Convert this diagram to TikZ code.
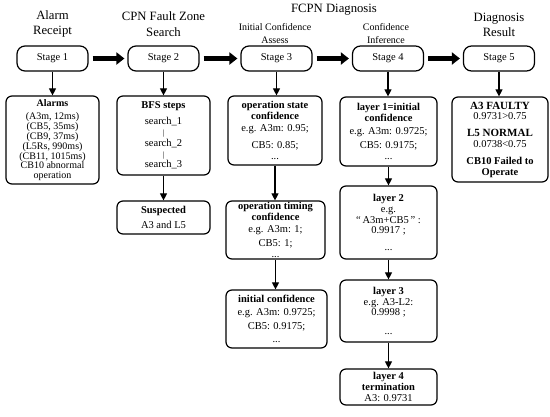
\documentclass[tikz,border=0pt]{standalone}
\usepackage{fontspec}
\setmainfont{Liberation Serif}
\usetikzlibrary{arrows.meta}
\begin{document}
\begin{tikzpicture}[x=1pt,y=-1pt,
  hdr/.style={align=center, font=\fontsize{12.7}{15.5}\selectfont, inner sep=0pt},
  subhdr/.style={align=center, font=\fontsize{10}{13}\selectfont, inner sep=0pt},
  stagebox/.style={draw, line width=1.2pt, rounded corners=8pt, minimum width=71pt, minimum height=25pt, inner sep=0pt, font=\fontsize{10.5}{12}\selectfont},
  infobox/.style={draw, line width=1.2pt, rounded corners=6pt, inner sep=0pt, align=center, font=\fontsize{10.5}{10.8}\selectfont},
  bigarrow/.style={line width=4.5pt, -{Triangle[length=8pt,width=12pt]}, shorten <=4pt, shorten >=3pt},
  arr/.style={line width=1.1pt, -{Triangle[length=7pt,width=7pt]}}]
\useasboundingbox (0,0) rectangle (550,416);
\fill[white] (0,0) rectangle (550,416);

% headers
\node[hdr] (h1) at (52.5,24) {Alarm\\Receipt};
\node[hdr] (h2) at (163.5,24) {CPN Fault Zone\\Search};
\node[hdr] (h3) at (334,10) {FCPN Diagnosis};
\node[subhdr] (h3a) at (275,33.5) {Initial Confidence\\Assess};
\node[subhdr] (h4a) at (386,33.5) {Confidence\\Inference};
\node[hdr] (h5) at (499,25) {Diagnosis\\Result};

% stages
\node[stagebox] (s1) at (52.5,58.5) {Stage 1};
\node[stagebox] (s2) at (163.5,58.5) {Stage 2};
\node[stagebox] (s3) at (276.5,58.5) {Stage 3};
\node[stagebox] (s4) at (388,58.5) {Stage 4};
\node[stagebox] (s5) at (499,58.5) {Stage 5};

\draw[bigarrow] (s1) -- (s2);
\draw[bigarrow] (s2) -- (s3);
\draw[bigarrow] (s3) -- (s4);
\draw[bigarrow] (s4) -- (s5);

% column 1
\node[infobox, minimum width=93pt, minimum height=88pt, font=\fontsize{10}{9.8}\selectfont] (al) at (52.5,140)
 {\textbf{Alarms}\\[4pt](A3m, 12ms)\\(CB5, 35ms)\\(CB9, 37ms)\\(L5Rs, 990ms)\\(CB11, 1015ms)\\CB10 abnormal\\operation};

% column 2
\node[infobox, minimum width=93pt, minimum height=79pt] (bfs) at (163.5,135.5)
 {\textbf{BFS steps}\\[5pt]search\_1\\{\fontsize{8}{8}\selectfont|}\\search\_2\\{\fontsize{8}{8}\selectfont|}\\search\_3};
\node[infobox, minimum width=93pt, minimum height=33pt] (sus) at (163.5,217.5)
 {\textbf{Suspected}\\[4pt]A3 and L5};

% column 3
\node[infobox, minimum width=94pt, minimum height=69pt] (ops) at (275,130.5)
 {\textbf{operation state}\\\textbf{confidence}\\[1pt]e.g. A3m: 0.95;\\[6pt]CB5: 0.85;\\...};
\node[infobox, minimum width=99pt, minimum height=58pt] (opt) at (275.5,230)
 {\textbf{operation timing}\\\textbf{confidence}\\[1pt]e.g. A3m: 1;\\[3pt]CB5: 1;\\...};
\node[infobox, minimum width=101pt, minimum height=58pt] (ini) at (276.5,319)
 {\textbf{initial confidence}\\[2pt]e.g. A3m: 0.9725;\\[3pt]CB5: 0.9175;\\[2pt]...};

% column 4
\node[infobox, minimum width=97pt, minimum height=69pt] (l1) at (388.5,131.5)
 {\textbf{layer 1=initial}\\\textbf{confidence}\\[2pt]e.g. A3m: 0.9725;\\[3pt]CB5: 0.9175;\\...};
\node[infobox, minimum width=97pt, minimum height=73pt] (l2) at (388.5,222.5)
 {\textbf{layer 2}\\e.g.\\“\,A3m+CB5\,”\ :\\0.9917 ;\\[6pt]...};
\node[infobox, minimum width=97pt, minimum height=62pt] (l3) at (388.5,311)
 {\textbf{layer 3}\\e.g. A3-L2:\\0.9998 ;\\[8pt]...};
\node[infobox, minimum width=97pt, minimum height=36pt] (l4) at (388.5,387)
 {\textbf{layer 4}\\\textbf{termination}\\A3: 0.9731};

% column 5
\node[infobox, minimum width=96pt, minimum height=85pt] (res) at (500,139.5)
 {{\fontsize{11}{11}\selectfont\textbf{A3 FAULTY}}\\0.9731>0.75\\[6pt]{\fontsize{11}{11}\selectfont\textbf{L5 NORMAL}}\\0.0738<0.75\\[6pt]\textbf{CB10 Failed to}\\\textbf{Operate}};

% connectors
\draw[arr] (s1) -- (s1 |- al.north);
\draw[arr] (s2) -- (s2 |- bfs.north);
\draw[arr] (s3) -- (s3 |- ops.north);
\draw[arr] (s4) -- (s4 |- l1.north);
\draw[arr] (s5) -- (s5 |- res.north);
\draw[arr] (bfs) -- (bfs |- sus.north);
\draw[arr] (ops) -- (ops |- opt.north);
\draw[arr] (opt) -- (opt |- ini.north);
\draw[arr] (l1) -- (l1 |- l2.north);
\draw[arr] (l2) -- (l2 |- l3.north);
\draw[arr] (l3) -- (l3 |- l4.north);
\end{tikzpicture}
\end{document}
